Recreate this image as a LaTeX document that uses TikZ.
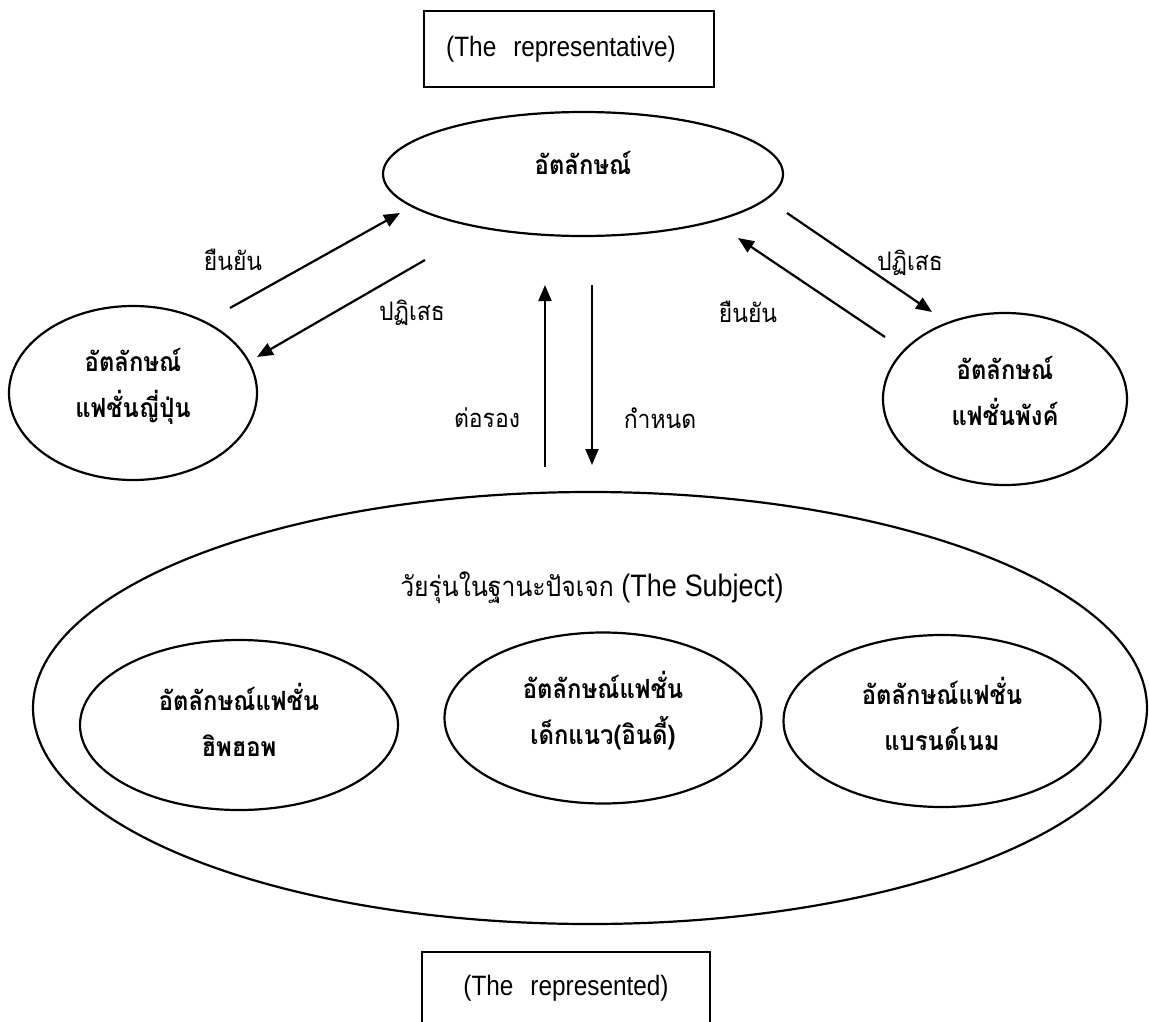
\documentclass[tikz,border=0pt]{standalone}
\usepackage{fontspec}
\setmainfont{Liberation Sans}[FakeStretch=0.87]
\newfontfamily\thai[Script=Thai,FakeStretch=0.9]{Loma}
\usetikzlibrary{shapes.geometric,arrows.meta}
\newcommand\latf{\fontsize{28}{32}\selectfont}
\newcommand\latsub{\fontsize{31}{34}\selectfont}
\newcommand\thb{\thai\bfseries\fontsize{26.5}{46}\selectfont}
\newcommand\thr{\thai\fontsize{25.5}{30}\selectfont}
\newcommand\thsub{\thai\fontsize{27.5}{32}\selectfont}
\begin{document}
\begin{tikzpicture}[x=1pt,y=-1pt,
  ell/.style={draw, line width=2.2pt, ellipse, inner sep=0pt},
  boxx/.style={draw, line width=2.2pt, rectangle, inner sep=0pt},
  arr/.style={line width=2.2pt, -{Triangle[length=16pt,width=13pt]}},
  lbl/.style={font=\thr, inner sep=0pt},
  etxt/.style={font=\thb, align=center, inner sep=0pt}]
\useasboundingbox (0,0) rectangle (1149,1022);
\clip (0,0) rectangle (1149,1022);
% boxes
\node[boxx, minimum width=290pt, minimum height=76pt,
      label={[font=\latf, xshift=-8pt]center:(The\hspace{17pt}representative)}] (rep) at (569,49) {};
\node[boxx, minimum width=288pt, minimum height=88pt,
      label={[font=\latf, yshift=8pt]center:(The\hspace{17pt}represented)}] (repd) at (566,996) {};
% ellipses
\node[ell, minimum width=400pt, minimum height=124pt,
      label={[etxt, yshift=11pt]center:อัตลักษณ์}] (idn) at (583,174) {};
\node[ell, minimum width=248pt, minimum height=174pt,
      label={[etxt, yshift=7pt]center:{อัตลักษณ์\\แฟชั่นญี่ปุ่น}}] (jp) at (133,393) {};
\node[ell, minimum width=244pt, minimum height=172pt,
      label={[etxt, yshift=8pt]center:{อัตลักษณ์\\แฟชั่นพังค์}}] (pk) at (1005,399) {};
\node[ell, minimum width=1114pt, minimum height=432pt] (subj) at (590,708) {};
\node[inner sep=0pt, font=\latsub] (subjt) at (592,588) {{\thsub วัยรุ่นในฐานะปัจเจก} (The\hspace{8pt}Subject)};
\node[ell, minimum width=318pt, minimum height=170pt,
      label={[etxt, yshift=5pt]center:{อัตลักษณ์แฟชั่น\\ฮิพฮอพ}}] (hh) at (239,725) {};
\node[ell, minimum width=317pt, minimum height=171pt,
      label={[etxt, yshift=7pt]center:{อัตลักษณ์แฟชั่น\\เด็กแนว(อินดี้)}}] (indie) at (603,718) {};
\node[ell, minimum width=317pt, minimum height=172pt,
      label={[etxt, yshift=7pt]center:{อัตลักษณ์แฟชั่น\\แบรนด์เนม}}] (brand) at (942,721) {};
% arrow end points
\coordinate (a1s) at (230,308); \coordinate (a1e) at (400,213);
\coordinate (a2s) at (425,260); \coordinate (a2e) at (257,357);
\coordinate (a3s) at (787,213); \coordinate (a3e) at (932,312);
\coordinate (a4s) at (885,337); \coordinate (a4e) at (738,238);
\coordinate (a5s) at (545,467); \coordinate (a5e) at (545,285);
\coordinate (a6s) at (592,285); \coordinate (a6e) at (592,465);
\draw[arr] (a1s) -- (a1e);
\draw[arr] (a2s) -- (a2e);
\draw[arr] (a3s) -- (a3e);
\draw[arr] (a4s) -- (a4e);
\draw[arr] (a5s) -- (a5e);
\draw[arr] (a6s) -- (a6e);
% labels
\node[lbl] (l1) at (233,260) {ยืนยัน};
\node[lbl] (l2) at (412,313) {ปฏิเสธ};
\node[lbl] (l3) at (910,263) {ปฏิเสธ};
\node[lbl] (l4) at (748,312) {ยืนยัน};
\node[lbl] (l5) at (487,418) {ต่อรอง};
\node[lbl] (l6) at (660,418) {กำหนด};
\end{tikzpicture}
\end{document}
